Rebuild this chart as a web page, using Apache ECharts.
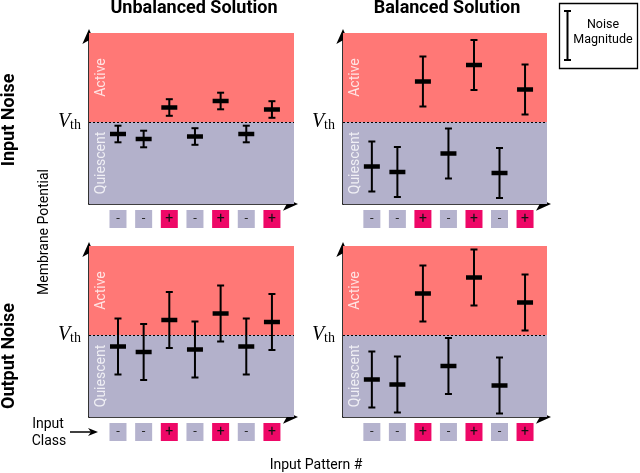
<!DOCTYPE html>
<html><head><meta charset="utf-8">
<script src="https://cdn.jsdelivr.net/npm/echarts@6/dist/echarts.min.js"></script>
<style>html,body{margin:0;padding:0;background:#fff}#c{width:640px;height:473px}</style>
</head><body><div id="c"></div>
<script>
// ---- data ----
const patterns = [1, 2, 3, 4, 5, 6, 7];
const inputClass = ['-', '-', '+', '-', '+', '-', '+'];
const unbalancedInputMean = [-1.2, -1.7, 1.45, -1.45, 2.1, -1.2, 1.25];
const unbalancedInputNoise = [0.83, 0.83, 0.83, 0.83, 0.83, 0.83, 0.83];
const balancedInputMean = [-4.45, -5.0, 4.05, -3.15, 5.7, -5.1, 3.25];
const balancedInputNoise = [2.5, 2.5, 2.5, 2.5, 2.5, 2.5, 2.5];
const unbalancedOutputMean = [-1.15, -1.7, 1.5, -1.45, 2.15, -1.15, 1.3];
const unbalancedOutputNoise = [2.8, 2.8, 2.8, 2.8, 2.8, 2.8, 2.8];
const balancedOutputMean = [-4.45, -4.95, 4.15, -3.1, 5.75, -5.05, 3.25];
const balancedOutputNoise = [2.8, 2.8, 2.8, 2.8, 2.8, 2.8, 2.8];
const vTh = 0, vMin = -8.2, vMax = 8.9;
const xMin = -0.13, xMax = 7.86;

const RED = '#FF7876', LAV = '#B3B1CB', MAG = '#EE0867', NEGBOX = '#B5B3CE';
const FONT = 'Roboto';

const chart = echarts.init(document.getElementById('c'), null, {renderer: 'canvas'});

const grids = [
  {left: 89, top: 33, width: 205, height: 171},
  {left: 343, top: 33, width: 204, height: 171},
  {left: 89, top: 246, width: 205, height: 171},
  {left: 343, top: 246, width: 204, height: 171}
];
const panels = [
  [unbalancedInputMean, unbalancedInputNoise],
  [balancedInputMean, balancedInputNoise],
  [unbalancedOutputMean, unbalancedOutputNoise],
  [balancedOutputMean, balancedOutputNoise]
];

const axisLine = {show: true, onZero: false, symbol: ['none', 'arrow'], symbolSize: [10, 15], symbolOffset: [0, 4],
  lineStyle: {color: '#000', width: 1.6}};

const xAxes = grids.map((g, i) => ({
  type: 'value', gridIndex: i, min: xMin, max: xMax,
  splitLine: {show: false}, axisTick: {show: false},
  axisLine: axisLine,
  axisLabel: {
    show: true, customValues: patterns, margin: 6,
    formatter: v => { const c = inputClass[Math.round(v) - 1]; return c === '+' ? '{p|+}' : '{n|-}'; },
    rich: {
      p: {backgroundColor: MAG, width: 17, height: 18, lineHeight: 18, align: 'center', color: '#111', fontSize: 14, fontFamily: FONT},
      n: {backgroundColor: NEGBOX, width: 17, height: 18, lineHeight: 18, align: 'center', color: '#222', fontSize: 13, fontFamily: FONT}
    }
  }
}));
const yAxes = grids.map((g, i) => ({
  type: 'value', gridIndex: i, min: vMin, max: vMax,
  splitLine: {show: false}, axisTick: {show: false},
  axisLine: axisLine,
  axisLabel: {
    show: true, customValues: [vTh], margin: 8,
    formatter: () => '{v|V}{s|th}',
    rich: {
      v: {fontFamily: 'Liberation Serif', fontStyle: 'italic', fontSize: 20, color: '#000'},
      s: {fontFamily: 'Liberation Serif', fontSize: 14, color: '#000', padding: [7, 0, 0, 0]}
    }
  }
}));

function renderErr(params, api) {
  const x = api.value(0), y = api.value(1), e = api.value(2);
  const c = api.coord([x, y]);
  const t = api.coord([x, y + e]);
  const b = api.coord([x, y - e]);
  const ls = {stroke: '#000', lineWidth: 2};
  return {type: 'group', children: [
    {type: 'line', shape: {x1: c[0], y1: t[1], x2: c[0], y2: b[1]}, style: ls},
    {type: 'line', shape: {x1: c[0] - 3.5, y1: t[1], x2: c[0] + 3.5, y2: t[1]}, style: ls},
    {type: 'line', shape: {x1: c[0] - 3.5, y1: b[1], x2: c[0] + 3.5, y2: b[1]}, style: ls},
    {type: 'rect', shape: {x: c[0] - 8, y: c[1] - 2.25, width: 16, height: 4.5}, style: {fill: '#000'}}
  ]};
}

const series = panels.map((p, i) => ({
  type: 'custom', xAxisIndex: i, yAxisIndex: i, clip: false, z: 5,
  renderItem: renderErr,
  data: patterns.map((x, k) => [x, p[0][k], p[1][k]]),
  markArea: {
    silent: true,
    label: {show: true, position: 'insideLeft', distance: 12, rotate: 90, align: 'center', verticalAlign: 'middle',
      color: 'rgba(255,255,255,0.8)', fontSize: 14, fontFamily: FONT},
    data: [
      [{name: 'Active', yAxis: vTh, itemStyle: {color: RED}}, {yAxis: vMax}],
      [{name: 'Quiescent', yAxis: vMin, itemStyle: {color: LAV}}, {yAxis: vTh}]
    ]
  },
  markLine: {
    silent: true, symbol: 'none', label: {show: false},
    lineStyle: {color: '#000', type: [2, 2], width: 1.2},
    data: [{yAxis: vTh}]
  }
}));

const txt = (x, y, text, font, extra) => Object.assign({
  type: 'text', x: x, y: y, z: 50,
  style: {text: text, font: font, fill: '#000', align: 'center', verticalAlign: 'middle'}
}, extra || {});

const graphic = [
  txt(194, 8, 'Unbalanced Solution', 'bold 18px Roboto'),
  txt(447, 8, 'Balanced Solution', 'bold 18px Roboto'),
  txt(9, 120, 'Input Noise', 'bold 18px Roboto', {rotation: Math.PI / 2}),
  txt(9, 356, 'Output Noise', 'bold 18px Roboto', {rotation: Math.PI / 2}),
  txt(44, 232, 'Membrane Potential', '14px Roboto', {rotation: Math.PI / 2}),
  txt(316, 465, 'Input Pattern #', '14px Roboto'),
  txt(48, 424, 'Input', '14px Roboto'),
  txt(49, 441, 'Class', '14px Roboto'),
  {type: 'line', z: 50, shape: {x1: 70, y1: 432, x2: 92, y2: 432}, style: {stroke: '#000', lineWidth: 1.5}},
  {type: 'polygon', z: 50, shape: {points: [[98, 432], [88, 428], [91, 432], [88, 436]]}, style: {fill: '#000'}},
  {type: 'rect', z: 50, shape: {x: 559.5, y: 3.5, width: 78, height: 65}, style: {fill: '#fff', stroke: '#000', lineWidth: 1.3}},
  {type: 'line', z: 51, shape: {x1: 567.5, y1: 11, x2: 567.5, y2: 60}, style: {stroke: '#000', lineWidth: 2}},
  {type: 'line', z: 51, shape: {x1: 564, y1: 11, x2: 571, y2: 11}, style: {stroke: '#000', lineWidth: 2}},
  {type: 'line', z: 51, shape: {x1: 564, y1: 60, x2: 571, y2: 60}, style: {stroke: '#000', lineWidth: 2}},
  txt(603, 25, 'Noise', '12.5px Roboto', {z: 51}),
  txt(603, 40, 'Magnitude', '12.5px Roboto', {z: 51})
];

chart.setOption({
  animation: false,
  backgroundColor: '#fff',
  grid: grids,
  xAxis: xAxes,
  yAxis: yAxes,
  series: series,
  graphic: graphic
});
</script></body></html>
